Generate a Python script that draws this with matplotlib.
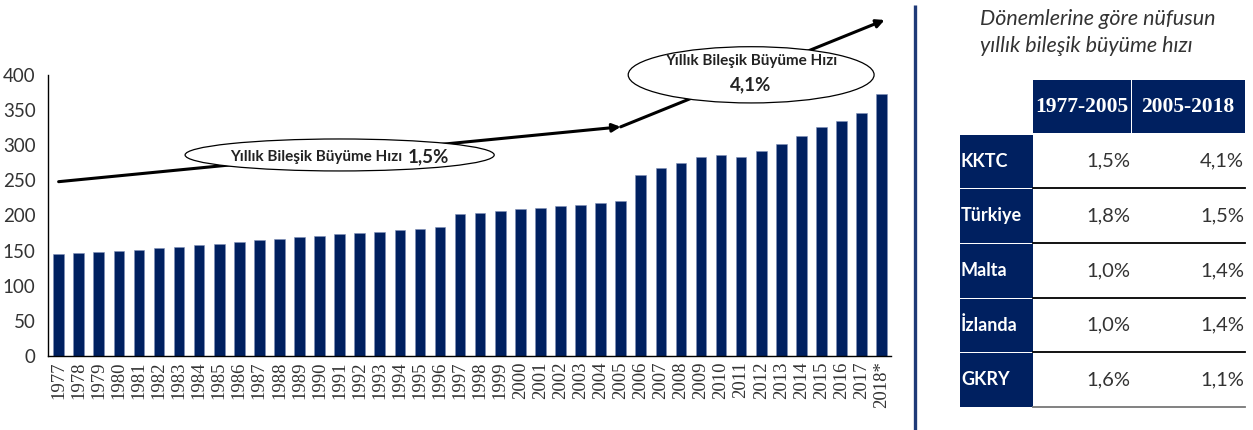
"""KKTC population bar chart with CAGR annotations and comparison table."""

import matplotlib
matplotlib.use("Agg")
import matplotlib.pyplot as plt
import matplotlib.patches as mpatches

NAVY = "#002060"
TXT = "#333333"

years = [str(y) for y in range(1977, 2018)] + ["2018*"]
population = [145, 147, 148, 149, 151, 153, 155, 157.5, 160, 162, 164.5, 167,
              169, 171, 173.5, 175, 176.5, 179, 181, 183, 201.5, 204, 206.5,
              208.5, 211, 213.5, 215.5, 218, 220, 257, 268, 274, 283, 286.5,
              283, 292, 302, 313, 326, 335, 346, 372.5]
y_ticks = [0, 50, 100, 150, 200, 250, 300, 350, 400]

countries = ["KKTC", "Türkiye", "Malta", "İzlanda", "GKRY"]
periods = ["1977-2005", "2005-2018"]
rate_1977_2005 = [1.5, 1.8, 1.0, 1.0, 1.6]
rate_2005_2018 = [4.1, 1.5, 1.4, 1.4, 1.1]

plt.rcParams['font.family'] = ['Lato', 'DejaVu Sans']

fig = plt.figure(figsize=(12.53, 4.30), dpi=100)

# overlay in pixel coordinates for the table / divider
ov = fig.add_axes([0, 0, 1, 1])
ov.set_xlim(0, 1253)
ov.set_ylim(430, 0)
ov.axis('off')

ax = fig.add_axes([0.0383, 0.172, 0.673, 0.654])
x = list(range(len(years)))
ax.bar(x, population, width=0.53, color=NAVY, edgecolor='#8090b8', linewidth=0.4)
ax.set_xlim(-0.53, len(years) - 0.52)
ax.set_ylim(0, 400)
ax.set_yticks(y_ticks)
ax.set_xticks(x)
ax.set_xticklabels(years, rotation=90, fontsize=13.5, color=TXT,
                   family='Liberation Serif')
ax.tick_params(axis='y', length=0, pad=9, labelsize=13.5, labelcolor=TXT)
ax.tick_params(axis='x', length=0, pad=4)
for s in ['top', 'right']:
    ax.spines[s].set_visible(False)
for s in ['left', 'bottom']:
    ax.spines[s].set_color('black')
    ax.spines[s].set_linewidth(1.0)

# growth arrows
ax.annotate('', xy=(28, 326), xytext=(0, 248), annotation_clip=False,
            arrowprops=dict(arrowstyle='-|>', color='black', lw=2.2,
                            mutation_scale=12, shrinkA=0, shrinkB=0), zorder=3)
ax.annotate('', xy=(41.15, 478), xytext=(28, 326), annotation_clip=False,
            arrowprops=dict(arrowstyle='-|>', color='black', lw=2.2,
                            mutation_scale=12, shrinkA=0, shrinkB=0), zorder=3)

e1 = mpatches.Ellipse((14.0, 286), 15.4, 45.5, facecolor='white',
                      edgecolor='black', lw=0.9, clip_on=False, zorder=4)
e2 = mpatches.Ellipse((34.5, 400), 12.25, 80, facecolor='white',
                      edgecolor='black', lw=0.9, clip_on=False, zorder=4)
ax.add_patch(e1)
ax.add_patch(e2)
ax.text(17.15, 283, 'Yıllık Bileşik Büyüme Hızı', ha='right', va='center',
        fontsize=11, fontweight='bold', color='#222222', zorder=5, clip_on=False)
ax.text(17.4, 284, '1,5%', ha='left', va='center', fontsize=13.5,
        fontweight='bold', color='#222222', zorder=5, clip_on=False)
ax.text(34.5, 419, 'Yıllık Bileşik Büyüme Hızı', ha='center', va='center',
        fontsize=11, fontweight='bold', color='#222222', zorder=5, clip_on=False)
ax.text(34.5, 386, '4,1%', ha='center', va='center', fontsize=13.5,
        fontweight='bold', color='#222222', zorder=5, clip_on=False)

# divider
ov.plot([915, 915], [5, 430], color='#1f3a78', lw=2.4, solid_capstyle='butt')

# right panel title
ov.text(980, 19, 'Dönemlerine göre nüfusun', ha='left', va='center',
        fontsize=15.5, style='italic', color=TXT)
ov.text(980, 46, 'yıllık bileşik büyüme hızı', ha='left', va='center',
        fontsize=15.5, style='italic', color=TXT)

# table
col_edges = [960, 1032.5, 1131.5, 1245]
head_top, head_bot = 80, 133
row_edges = [134.5, 188, 243, 298, 352, 407]

for i, p in enumerate(periods):
    x0, x1 = col_edges[i + 1], col_edges[i + 2]
    ov.add_patch(mpatches.Rectangle((x0 + 0.5, head_top), x1 - x0 - 1,
                                    head_bot - head_top, facecolor=NAVY,
                                    edgecolor='none'))
    ov.text((x0 + x1) / 2, (head_top + head_bot) / 2 + 1, p, ha='center',
            va='center', fontsize=15.5, fontweight='bold', color='white',
            family='Liberation Serif')

for r, name in enumerate(countries):
    y0, y1 = row_edges[r], row_edges[r + 1]
    ov.add_patch(mpatches.Rectangle((col_edges[0], y0 + 0.5),
                                    col_edges[1] - col_edges[0], y1 - y0 - 1,
                                    facecolor=NAVY, edgecolor='none'))
    ym = (y0 + y1) / 2
    ov.text(col_edges[0] + 1, ym, name, ha='left', va='center', fontsize=13,
            fontweight='bold', color='white')
    for c, vals in enumerate([rate_1977_2005, rate_2005_2018]):
        ov.text(col_edges[c + 2] - 1, ym, f"{vals[r]:.1f}%".replace('.', ','),
                ha='right', va='center', fontsize=14.5, color=TXT)
    ov.plot([col_edges[1], col_edges[3]], [y1, y1],
            color='black' if r < len(countries) - 1 else '#777777', lw=1.3)

fig.savefig('out.png', dpi=100)
